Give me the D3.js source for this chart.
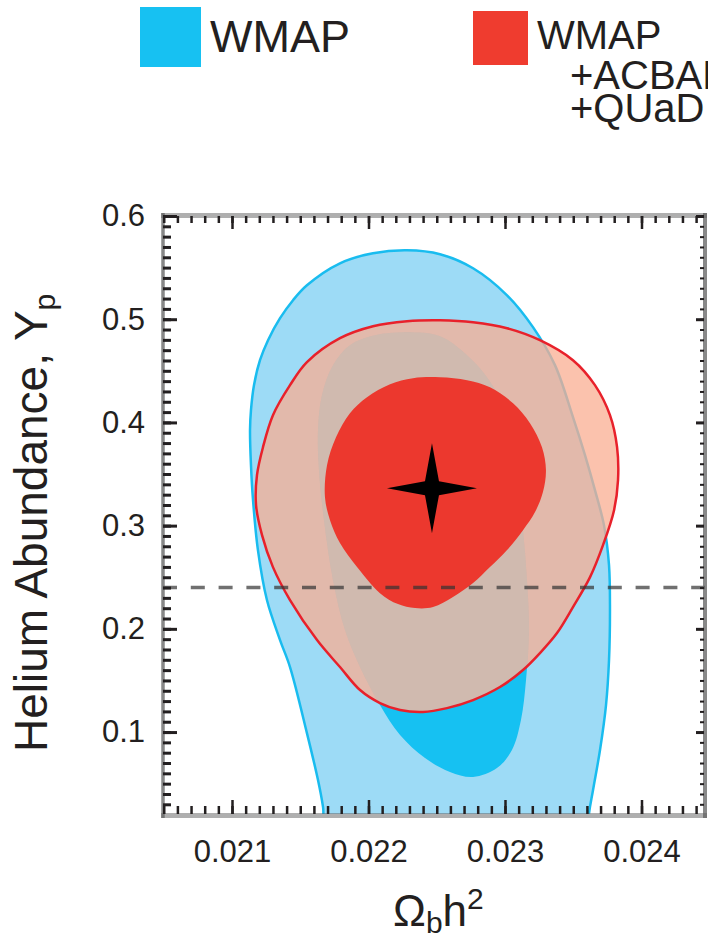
<!DOCTYPE html>
<html>
<head>
<meta charset="utf-8">
<script src="https://cdn.jsdelivr.net/npm/d3@7"></script>
<style>
  body { margin: 0; background: #ffffff; }
  svg text { font-family: "Liberation Sans", Arial, Helvetica, sans-serif; fill: #231f20; }
</style>
</head>
<body>
<svg id="chart" width="708" height="936"></svg>
<script>
// ---- Data: confidence contours in (Omega_b h^2, Y_p) ----
// WMAP alone, 95% region
const wmapOuter = [
  [0.021132, 0.3925], [0.021139, 0.4119], [0.021161, 0.4361], [0.021205, 0.4603],
  [0.021264, 0.4797], [0.021352, 0.5010], [0.021447, 0.5184], [0.021549, 0.5329],
  [0.021791, 0.5542], [0.022033, 0.5639], [0.022282, 0.5668], [0.022524, 0.5630],
  [0.022766, 0.5494], [0.023015, 0.5232], [0.023205, 0.4923], [0.023366, 0.4555],
  [0.023498, 0.4051], [0.023586, 0.3683], [0.023659, 0.3344], [0.023725, 0.3005],
  [0.023762, 0.2617], [0.023769, 0.2182], [0.023762, 0.1697], [0.023740, 0.1262],
  [0.023696, 0.0826], [0.023645, 0.0438], [0.023615, 0.0206], [0.023590, -0.030],
  [0.021720, -0.030], [0.021667, 0.0274], [0.021630, 0.0535], [0.021549, 0.0990],
  [0.021425, 0.1630], [0.021352, 0.1891], [0.021256, 0.2279], [0.021190, 0.2763],
  [0.021154, 0.3247], [0.021139, 0.3586]
];
// WMAP alone, 68% region
const wmapInner = [
  [0.022282, 0.4874], [0.022524, 0.4835], [0.022722, 0.4651], [0.022868, 0.4438],
  [0.022963, 0.4216], [0.023037, 0.3828], [0.023088, 0.3441], [0.023132, 0.2956],
  [0.023161, 0.2472], [0.023176, 0.1988], [0.023154, 0.1504], [0.023117, 0.1116],
  [0.023051, 0.0826], [0.022941, 0.0651], [0.022766, 0.0564], [0.022597, 0.0613],
  [0.022414, 0.0748], [0.022231, 0.0971], [0.022084, 0.1262], [0.021938, 0.1630],
  [0.021828, 0.1988], [0.021740, 0.2472], [0.021674, 0.3053], [0.021637, 0.3538],
  [0.021630, 0.3925], [0.021659, 0.4264], [0.021740, 0.4555], [0.021864, 0.4748],
  [0.022048, 0.4845]
];
// WMAP+ACBAR+QUaD, 95% region
const combinedOuter = [
  [0.022524, 0.4990], [0.022766, 0.4971], [0.023015, 0.4913], [0.023256, 0.4797],
  [0.023498, 0.4603], [0.023659, 0.4361], [0.023769, 0.4070], [0.023821, 0.3760],
  [0.023828, 0.3441], [0.023799, 0.3150], [0.023718, 0.2811], [0.023623, 0.2501],
  [0.023498, 0.2211], [0.023381, 0.1959], [0.023256, 0.1765], [0.023132, 0.1601],
  [0.022963, 0.1436], [0.022766, 0.1310], [0.022575, 0.1232], [0.022399, 0.1194],
  [0.022231, 0.1213], [0.022084, 0.1281], [0.021938, 0.1407], [0.021791, 0.1630],
  [0.021623, 0.1891], [0.021425, 0.2279], [0.021300, 0.2598], [0.021220, 0.2908],
  [0.021176, 0.3199], [0.021183, 0.3489], [0.021227, 0.3760], [0.021300, 0.4070],
  [0.021425, 0.4361], [0.021549, 0.4584], [0.021791, 0.4816], [0.022033, 0.4932],
  [0.022282, 0.4981]
];
// WMAP+ACBAR+QUaD, 68% region
const combinedInner = [
  [0.022524, 0.4438], [0.022722, 0.4409], [0.022890, 0.4341], [0.023059, 0.4186],
  [0.023183, 0.3993], [0.023271, 0.3760], [0.023300, 0.3538], [0.023278, 0.3325],
  [0.023220, 0.3131], [0.023132, 0.2956], [0.023015, 0.2763], [0.022890, 0.2598],
  [0.022766, 0.2443], [0.022619, 0.2308], [0.022473, 0.2211], [0.022341, 0.2201],
  [0.022216, 0.2240], [0.022084, 0.2346], [0.021916, 0.2598], [0.021791, 0.2831],
  [0.021718, 0.3053], [0.021681, 0.3276], [0.021696, 0.3586], [0.021762, 0.3857],
  [0.021864, 0.4090], [0.021989, 0.4245], [0.022158, 0.4371], [0.022326, 0.4429]
];
// best-fit point
const bestFit = [0.022465, 0.3363];
// primordial helium reference level
const heliumLevel = 0.24;

// ---- Axes ticks and legend ----
const xMajorTicks = [0.021, 0.022, 0.023, 0.024];
const xMinorTicks = d3.range(205, 245).map(d => d / 10000);
const yMajorTicks = [0.1, 0.2, 0.3, 0.4, 0.5, 0.6];
const yMinorTicks = d3.range(3, 61).map(d => d / 100);
const legendLabels = [["WMAP"], ["WMAP", "+ACBAR", "+QUaD"]];

// ---- Layout ----
const svg = d3.select("#chart");
const plot = { left: 163, right: 705, top: 216, bottom: 814 };

const x = d3.scaleLinear().domain([0.0204945, 0.0244652]).range([plot.left, plot.right]);
const y = d3.scaleLinear().domain([0.0206, 0.6]).range([plot.bottom, plot.top]);

const contour = d3.line()
  .x(d => x(d[0])).y(d => y(d[1]))
  .curve(d3.curveCatmullRomClosed.alpha(0.5));

const defs = svg.append("defs");
defs.append("clipPath").attr("id", "plotClip")
  .append("rect")
  .attr("x", plot.left).attr("y", plot.top)
  .attr("width", plot.right - plot.left).attr("height", plot.bottom - plot.top);
defs.append("clipPath").attr("id", "combinedClip")
  .append("path").attr("d", contour(combinedOuter));

const area = svg.append("g").attr("clip-path", "url(#plotClip)");

// WMAP contours
area.append("path").attr("d", contour(wmapOuter))
  .attr("fill", "#9ddbf6").attr("stroke", "#19bcef").attr("stroke-width", 2.5);
area.append("path").attr("d", contour(wmapInner))
  .attr("fill", "#16c1f2");

// Combined contours (translucent 95% region over the WMAP regions)
area.append("path").attr("d", contour(combinedOuter))
  .attr("fill", "rgb(249,174,146)").attr("fill-opacity", 0.75);
area.append("g").attr("clip-path", "url(#combinedClip)")
  .append("path").attr("d", contour(wmapInner))
  .attr("fill", "#f6cabd").attr("fill-opacity", 0.3);
area.append("path").attr("d", contour(combinedOuter))
  .attr("fill", "none").attr("stroke", "#e8212b").attr("stroke-width", 2.5);
area.append("path").attr("d", contour(combinedInner))
  .attr("fill", "#ec382e");

// Reference helium level
area.append("line")
  .attr("x1", plot.left).attr("x2", plot.right)
  .attr("y1", y(heliumLevel)).attr("y2", y(heliumLevel))
  .attr("stroke", "#333").attr("stroke-opacity", 0.7)
  .attr("stroke-width", 3.5).attr("stroke-dasharray", "14,13.8");

// Best-fit marker: four-pointed star
(function () {
  const cx = x(bestFit[0]), cy = y(bestFit[1]);
  const arm = 45, waist = 7;
  const p = d3.path();
  p.moveTo(cx, cy - arm);
  p.lineTo(cx + waist, cy - waist);
  p.lineTo(cx + arm, cy);
  p.lineTo(cx + waist, cy + waist);
  p.lineTo(cx, cy + arm);
  p.lineTo(cx - waist, cy + waist);
  p.lineTo(cx - arm, cy);
  p.lineTo(cx - waist, cy - waist);
  p.closePath();
  area.append("path").attr("d", p.toString()).attr("fill", "#000");
})();

// ---- Frame ----
const frame = svg.append("g");
frame.append("line").attr("x1", plot.left - 2).attr("x2", plot.right + 2)
  .attr("y1", plot.top - 0.5).attr("y2", plot.top - 0.5)
  .attr("stroke", "#606060").attr("stroke-opacity", 0.5).attr("stroke-width", 5);
frame.append("line").attr("x1", plot.left - 2).attr("x2", plot.right + 2)
  .attr("y1", plot.bottom + 1.5).attr("y2", plot.bottom + 1.5)
  .attr("stroke", "#606060").attr("stroke-opacity", 0.5).attr("stroke-width", 5);
frame.append("line").attr("x1", plot.left).attr("x2", plot.left)
  .attr("y1", plot.top - 3).attr("y2", plot.bottom + 4)
  .attr("stroke", "#606060").attr("stroke-opacity", 0.75).attr("stroke-width", 3.5);
frame.append("line").attr("x1", plot.right).attr("x2", plot.right)
  .attr("y1", plot.top - 3).attr("y2", plot.bottom + 4)
  .attr("stroke", "#606060").attr("stroke-opacity", 0.75).attr("stroke-width", 4);

// ---- Ticks ----
function tickLayer(axis, transform, width) {
  const g = svg.append("g").attr("transform", transform).call(axis);
  g.select(".domain").remove();
  g.attr("color", "#231f20");
  g.selectAll(".tick line").attr("stroke-width", width);
  return g;
}
// bottom
tickLayer(d3.axisBottom(x).tickValues(xMinorTicks).tickSize(-8).tickFormat(""),
  `translate(0,${plot.bottom})`, 2.5);
const xLab = tickLayer(d3.axisBottom(x).tickValues(xMajorTicks).tickSize(-14)
  .tickPadding(26).tickFormat(d3.format(".3f")), `translate(0,${plot.bottom})`, 2.5);
// top
tickLayer(d3.axisTop(x).tickValues(xMinorTicks).tickSize(-7).tickFormat(""),
  `translate(0,${plot.top})`, 2.5);
tickLayer(d3.axisTop(x).tickValues(xMajorTicks).tickSize(-13).tickFormat(""),
  `translate(0,${plot.top})`, 2.5);
// left
tickLayer(d3.axisLeft(y).tickValues(yMinorTicks).tickSize(-8).tickFormat(""),
  `translate(${plot.left},0)`, 3);
const yLab = tickLayer(d3.axisLeft(y).tickValues(yMajorTicks).tickSize(-14)
  .tickPadding(18).tickFormat(d3.format(".1f")), `translate(${plot.left},0)`, 3);
// right
tickLayer(d3.axisRight(y).tickValues(yMinorTicks).tickSize(-4).tickFormat(""),
  `translate(${plot.right - 1},0)`, 2);
tickLayer(d3.axisRight(y).tickValues(yMajorTicks).tickSize(-8).tickFormat(""),
  `translate(${plot.right - 1},0)`, 3);

[xLab, yLab].forEach(g => g.attr("font-size", null).attr("font-family", null)
  .selectAll("text").style("font-size", "31px").attr("fill", "#231f20"));

// ---- Axis titles ----
const xTitle = svg.append("text").attr("x", 393).attr("y", 926).style("font-size", "44px");
xTitle.append("tspan").text("Ω");
xTitle.append("tspan").attr("dy", 7).style("font-size", "30px").text("b");
xTitle.append("tspan").attr("dy", -7).text("h");
xTitle.append("tspan").attr("dy", -17).style("font-size", "30px").text("2");

const yTitle = svg.append("text").attr("transform", "translate(47,752) rotate(-90)")
  .style("font-size", "46px");
yTitle.append("tspan").text("Helium  Abundance, Y");
yTitle.append("tspan").attr("dy", 8).style("font-size", "30px").text("p");

// ---- Legend ----
const legend = svg.append("g");
legend.append("rect").attr("x", 140).attr("y", 7).attr("width", 61).attr("height", 60)
  .attr("fill", "#17c1f2");
legend.append("text").attr("x", 210).attr("y", 52).style("font-size", "45px")
  .text(legendLabels[0][0]);

legend.append("rect").attr("x", 473).attr("y", 11).attr("width", 55).attr("height", 54)
  .attr("fill", "#ef3c2f");
const redLines = [[537, 49], [570, 89], [570, 122]];
legendLabels[1].forEach((t, i) => {
  legend.append("text").attr("x", redLines[i][0]).attr("y", redLines[i][1])
    .style("font-size", "40px").text(t);
});
</script>
</body>
</html>
